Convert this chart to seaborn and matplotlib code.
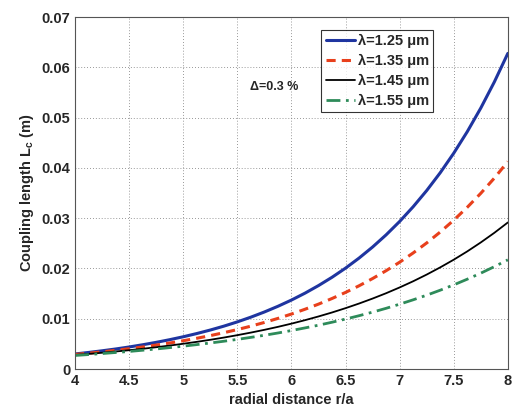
import numpy as np
import pandas as pd
import seaborn as sns
import matplotlib.pyplot as plt

# radial distance r/a (step 0.125)
r_a = [4.0, 4.125, 4.25, 4.375, 4.5, 4.625, 4.75, 4.875, 5.0,
       5.125, 5.25, 5.375, 5.5, 5.625, 5.75, 5.875, 6.0,
       6.125, 6.25, 6.375, 6.5, 6.625, 6.75, 6.875, 7.0,
       7.125, 7.25, 7.375, 7.5, 7.625, 7.75, 7.875, 8.0]

# coupling length Lc (m), one list per wavelength
lc_125 = [0.00300, 0.00330, 0.00363, 0.00399, 0.00439, 0.00483, 0.00531, 0.00584, 0.00642,
          0.00706, 0.00776, 0.00853, 0.00938, 0.01032, 0.01135, 0.01248, 0.01372,
          0.01509, 0.01660, 0.01825, 0.02007, 0.02207, 0.02427, 0.02669, 0.02935,
          0.03228, 0.03550, 0.03904, 0.04293, 0.04721, 0.05191, 0.05709, 0.06278]
lc_135 = [0.00290, 0.00315, 0.00342, 0.00372, 0.00404, 0.00439, 0.00477, 0.00518, 0.00563,
          0.00612, 0.00665, 0.00723, 0.00785, 0.00853, 0.00927, 0.01007, 0.01094,
          0.01189, 0.01291, 0.01403, 0.01524, 0.01656, 0.01800, 0.01956, 0.02125,
          0.02309, 0.02508, 0.02725, 0.02961, 0.03217, 0.03495, 0.03797, 0.04126]
lc_145 = [0.00280, 0.00301, 0.00324, 0.00349, 0.00375, 0.00403, 0.00434, 0.00467, 0.00503,
          0.00541, 0.00582, 0.00626, 0.00674, 0.00725, 0.00780, 0.00839, 0.00903,
          0.00972, 0.01046, 0.01125, 0.01211, 0.01303, 0.01402, 0.01508, 0.01623,
          0.01746, 0.01879, 0.02022, 0.02175, 0.02340, 0.02518, 0.02709, 0.02915]
lc_155 = [0.00270, 0.00288, 0.00308, 0.00329, 0.00350, 0.00374, 0.00399, 0.00426, 0.00455,
          0.00486, 0.00518, 0.00553, 0.00590, 0.00630, 0.00672, 0.00717, 0.00766,
          0.00818, 0.00872, 0.00931, 0.00994, 0.01061, 0.01132, 0.01208, 0.01290,
          0.01377, 0.01469, 0.01568, 0.01674, 0.01787, 0.01907, 0.02036, 0.02172]

labels = ["λ=1.25 μm", "λ=1.35 μm", "λ=1.45 μm", "λ=1.55 μm"]
x_ticks = [4, 4.5, 5, 5.5, 6, 6.5, 7, 7.5, 8]
y_ticks = [0, 0.01, 0.02, 0.03, 0.04, 0.05, 0.06, 0.07]

sns.set_style("white")
plt.rcParams['font.family'] = ['Liberation Sans', 'DejaVu Sans']
plt.rcParams['font.weight'] = 'bold'
plt.rcParams['mathtext.default'] = 'regular'

fig = plt.figure(figsize=(5.14, 4.17), dpi=100)
ax = fig.add_axes([0.146, 0.115, 0.842, 0.844])

series = [lc_125, lc_135, lc_145, lc_155]
colors = ["#1f35a0", "#e8401c", "black", "#2e8b5a"]
styles = ["-", (0, (3, 2)), "-", (0, (5, 2, 1, 2))]
widths = [2.2, 2.2, 1.3, 2.0]
for vals, lab, c, ls, lw in zip(series, labels, colors, styles, widths):
    df = pd.DataFrame({"r": r_a, "lc": vals})
    sns.lineplot(data=df, x="r", y="lc", ax=ax, color=c, linestyle=ls,
                 linewidth=lw, label=lab)

ax.set_xlim(4, 8)
ax.set_ylim(0, 0.07)
ax.set_xticks(x_ticks)
ax.set_xticklabels(["4", "4.5", "5", "5.5", "6", "6.5", "7", "7.5", "8"])
ax.set_yticks(y_ticks)
ax.set_yticklabels(["0", "0.01", "0.02", "0.03", "0.04", "0.05", "0.06", "0.07"])
ax.grid(True, linestyle=(0, (1, 2.5)), color="#777777", linewidth=0.6)
ax.tick_params(direction="in", labelsize=10.5, length=3, width=0.6)
for sp in ax.spines.values():
    sp.set_color("#555555")
    sp.set_linewidth(0.8)

ax.set_xlabel("radial distance r/a", fontsize=10.5, fontweight="bold")
ax.set_ylabel("Coupling length L$_{c}$ (m)", fontsize=10.5, fontweight="bold")
ax.text(5.62, 0.0555, "Δ=0.3 %", fontsize=9, fontweight="bold")

leg = ax.legend(loc="upper right", bbox_to_anchor=(0.845, 0.985), fontsize=10.5,
                frameon=True, fancybox=False, handlelength=2.0,
                handletextpad=0.2, borderpad=0.3, labelspacing=0.4)
leg.get_frame().set_edgecolor("black")
leg.get_frame().set_linewidth(0.8)

fig.savefig("out.png", dpi=100)
